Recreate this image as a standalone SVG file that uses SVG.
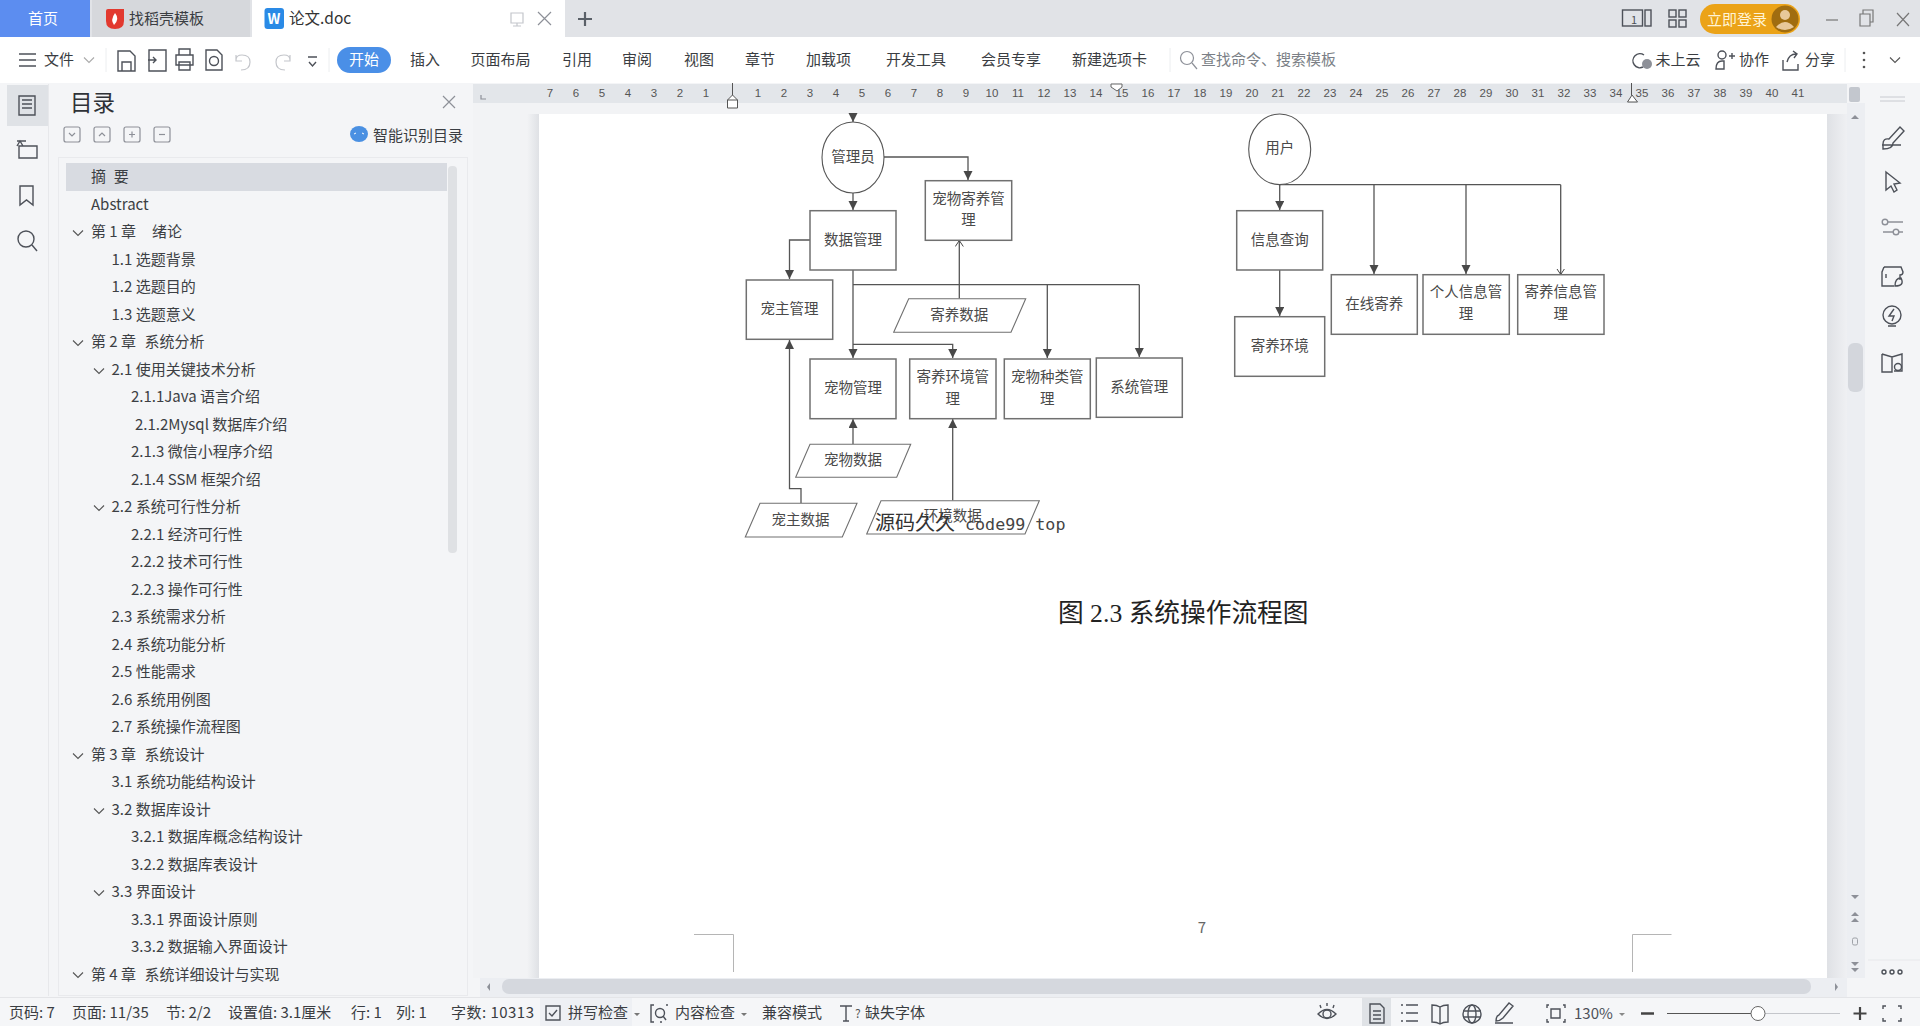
<svg xmlns="http://www.w3.org/2000/svg" width="1920" height="1026" viewBox="0 0 1920 1026">
<style>
text{font-family:"Noto Sans CJK SC","Noto Sans",sans-serif;}
.ui{font-size:15px;fill:#3a3d42}
.toc{font-size:15px;fill:#3c3f44;white-space:pre}
.rl{font-size:11.5px;fill:#555;text-anchor:middle;font-family:"Liberation Sans","Noto Sans CJK SC",sans-serif}
.st{font-size:15px;fill:#3a3d42}
.ic{fill:none;stroke:#4d5159;stroke-width:1.4}
.icl{fill:none;stroke:#8d9098;stroke-width:1.2}
.box{fill:#fff;stroke:#707070;stroke-width:1.5}
.el{fill:#fff;stroke:#555;stroke-width:1.1}
.lb{font-size:14.5px;fill:#4a4a4a;text-anchor:middle}
.cn{fill:none;stroke:#555;stroke-width:1.3}
.ar{marker-end:url(#a)}
.ao{marker-end:url(#o)}
</style>
<defs>
<marker id="a" markerUnits="userSpaceOnUse" markerWidth="10" markerHeight="10" refX="9" refY="4.5" orient="auto"><path d="M0 0L9 4.5L0 9z" fill="#484848"/></marker>
<marker id="o" markerUnits="userSpaceOnUse" markerWidth="8" markerHeight="10" refX="6" refY="4" orient="auto"><path d="M0 0L6 4L0 8" fill="none" stroke="#444" stroke-width="1"/></marker>
<path id="ch" d="M-5 -2.5L0 2.5L5 -2.5" fill="none" stroke="#555" stroke-width="1.1"/>
<linearGradient id="sh" x1="0" x2="1" y1="0" y2="0"><stop offset="0" stop-color="#f2f3f5"/><stop offset="1" stop-color="#dfe1e5"/></linearGradient>
<linearGradient id="sh2" x1="0" x2="1" y1="0" y2="0"><stop offset="0" stop-color="#dfe1e5"/><stop offset="1" stop-color="#eff0f3"/></linearGradient>
</defs>

<rect width="1920" height="1026" fill="#f4f5f7"/>
<!-- document area -->
<rect x="473" y="103" width="1374" height="875" fill="#f2f3f5"/>
<rect x="527" y="114" width="12" height="864" fill="url(#sh)"/>
<rect x="1827" y="114" width="20" height="864" fill="url(#sh2)"/>
<rect x="539" y="114" width="1288" height="864" fill="#fff"/>

<!-- tab bar -->
<rect width="1920" height="37" fill="#e1e3e7"/>
<rect width="90" height="37" fill="#5c8df0"/>
<rect x="92" width="158" height="37" fill="#d6d8dc"/>
<rect x="252" width="313" height="37" fill="#fff"/>
<text x="28" y="24" font-size="15" fill="#fff">首页</text>
<path d="M106 11Q106 9 108 9H124V21Q124 29 115 29Q106 29 106 21z" fill="#e2392f"/>
<path d="M115 13Q120 19 114 25Q110 20 115 13z" fill="#fff"/>
<text x="129" y="24" class="ui" fill="#555">找稻壳模板</text>
<rect x="264.500" y="8" width="19.500" height="21" rx="3" fill="#2a8ae6"/>
<text x="274" y="24" font-size="14" font-weight="700" fill="#fff" text-anchor="middle">W</text>
<text x="289" y="24" font-size="15.500" fill="#333">论文.doc</text>
<path d="M511 13h12v10h-12zM517 23v3M513 26h8" class="icl" style="stroke:#c4c6cb"/>
<path d="M538 12l13 13M551 12l-13 13" class="icl"/>
<path d="M585 12v14M578 19h14" stroke="#5a6068" stroke-width="2.2" fill="none"/>
<g class="ic">
<rect x="1622.500" y="10" width="20" height="16"/><rect x="1645" y="10" width="6" height="16"/>
<rect x="1669" y="10" width="7" height="7"/><rect x="1679" y="10" width="7" height="7"/><rect x="1669" y="20" width="7" height="7"/><rect x="1679" y="20" width="7" height="7"/>
</g>
<text x="1634" y="24" font-size="11" fill="#4d5159" text-anchor="middle" font-family="Liberation Sans">1</text>
<rect x="1700" y="4" width="100" height="30" rx="15" fill="#eba318"/>
<text x="1707" y="25" font-size="15" fill="#fff4d6">立即登录</text>
<circle cx="1785" cy="19" r="13.500" fill="#a06d10"/><circle cx="1785" cy="15" r="5" fill="#e8c89a"/><path d="M1776 27Q1785 17 1794 27Q1785 33 1776 27z" fill="#e8c89a"/>
<path d="M1826 20h12" stroke="#777" stroke-width="1.200"/>
<path d="M1860 14h10v12h-10zM1863 14v-4h10v12h-3" fill="none" stroke="#777" stroke-width="1.200"/>
<path d="M1897 13l12 13M1909 13l-12 13" fill="none" stroke="#777" stroke-width="1.200"/>

<!-- toolbar -->
<rect y="37" width="1920" height="46" fill="#fff"/>
<path d="M19 54h17M19 60h17M19 66h17" class="ic"/>
<text x="44" y="65" class="ui">文件</text>
<use href="#ch" x="89" y="60" opacity=".5"/>
<path d="M106 48v24M329 48v24M1170 48v24M1845 48v24" stroke="#eceef0"/>
<g class="ic">
<path d="M118 51h12l5 5v15h-17zM122 71v-9h9v9"/>
<path d="M149 50h17v21h-17zM148 60h8M153 57l3 3l-3 3"/>
<path d="M176 55h17v10h-17zM179 55v-6h11v6M179 62h11v8h-11z"/>
<path d="M206 50h11l5 5v15h-16z"/><circle cx="214" cy="61" r="4.500"/>
</g>
<path d="M236 60q0-5 6-5q8 0 8 7q0 8-9 8M236 55v6h6" class="icl" style="stroke:#c4c6cb"/>
<path d="M290 60q0-5-6-5q-8 0-8 7q0 8 9 8M290 55v6h-6" class="icl" style="stroke:#c4c6cb"/>
<path d="M308 57h9M309 62l3.500 4l3.500-4" class="ic"/>
<rect x="337" y="47" width="54" height="26" rx="13" fill="#4a8fe7"/>
<text x="349" y="65" class="ui" style="fill:#fff">开始</text>
<g class="ui">
<text x="410" y="65">插入</text><text x="470.500" y="65">页面布局</text><text x="562" y="65">引用</text><text x="622" y="65">审阅</text><text x="684" y="65">视图</text><text x="745" y="65">章节</text><text x="806" y="65">加载项</text><text x="886" y="65">开发工具</text><text x="981" y="65">会员专享</text><text x="1072" y="65">新建选项卡</text>
</g>
<circle cx="1187" cy="58" r="6.500" class="icl"/><path d="M1192 63l5 6" class="icl"/>
<text x="1201" y="65" class="ui" style="fill:#7b7f86">查找命令、搜索模板</text>
<path d="M1644 55a7 7 0 1 0 -1 12" class="ic"/><circle cx="1647" cy="64" r="5" fill="#8d9098"/>
<text x="1655.500" y="65" class="ui">未上云</text>
<circle cx="1722" cy="55" r="4" class="ic"/><path d="M1716 69q0-8 6-8h2v8zM1729 56h6M1732 53v6" class="ic"/>
<text x="1739" y="65" class="ui">协作</text>
<path d="M1783 60v10h15v-6M1787 62q2-8 9-8M1793 51l4 3l-3 4" class="ic"/>
<text x="1805" y="65" class="ui">分享</text>
<circle cx="1864" cy="53" r="1.300" fill="#555"/><circle cx="1864" cy="60" r="1.300" fill="#555"/><circle cx="1864" cy="67" r="1.300" fill="#555"/>
<use href="#ch" x="1895" y="60"/>

<!-- ruler -->
<rect x="473" y="84" width="1374" height="19" fill="#e3e6ea"/>
<path d="M481 95v4h5" class="icl"/>
<g>
<text class="rl" x="550" y="97">7</text><text class="rl" x="576" y="97">6</text><text class="rl" x="602" y="97">5</text><text class="rl" x="628" y="97">4</text><text class="rl" x="654" y="97">3</text><text class="rl" x="680" y="97">2</text><text class="rl" x="706" y="97">1</text>
<text class="rl" x="758" y="97">1</text><text class="rl" x="784" y="97">2</text><text class="rl" x="810" y="97">3</text><text class="rl" x="836" y="97">4</text><text class="rl" x="862" y="97">5</text><text class="rl" x="888" y="97">6</text><text class="rl" x="914" y="97">7</text><text class="rl" x="940" y="97">8</text><text class="rl" x="966" y="97">9</text><text class="rl" x="992" y="97">10</text><text class="rl" x="1018" y="97">11</text><text class="rl" x="1044" y="97">12</text><text class="rl" x="1070" y="97">13</text><text class="rl" x="1096" y="97">14</text><text class="rl" x="1122" y="97">15</text><text class="rl" x="1148" y="97">16</text><text class="rl" x="1174" y="97">17</text><text class="rl" x="1200" y="97">18</text><text class="rl" x="1226" y="97">19</text><text class="rl" x="1252" y="97">20</text><text class="rl" x="1278" y="97">21</text><text class="rl" x="1304" y="97">22</text><text class="rl" x="1330" y="97">23</text><text class="rl" x="1356" y="97">24</text><text class="rl" x="1382" y="97">25</text><text class="rl" x="1408" y="97">26</text><text class="rl" x="1434" y="97">27</text><text class="rl" x="1460" y="97">28</text><text class="rl" x="1486" y="97">29</text><text class="rl" x="1512" y="97">30</text><text class="rl" x="1538" y="97">31</text><text class="rl" x="1564" y="97">32</text><text class="rl" x="1590" y="97">33</text><text class="rl" x="1616" y="97">34</text><text class="rl" x="1642" y="97">35</text><text class="rl" x="1668" y="97">36</text><text class="rl" x="1694" y="97">37</text><text class="rl" x="1720" y="97">38</text><text class="rl" x="1746" y="97">39</text><text class="rl" x="1772" y="97">40</text><text class="rl" x="1798" y="97">41</text>
</g>
<path d="M732.500 83v12" stroke="#555" fill="none"/>
<path d="M727.500 100l5-5l5 5v8h-10zM727.500 100h10" fill="#fff" stroke="#555"/>
<path d="M1111 84h11v3l-5 4l-6-4z" fill="#fff" stroke="#666"/>
<path d="M1631.500 83v12" stroke="#555" fill="none"/>
<path d="M1627.500 102l4.500-7l5.500 7z" fill="#fff" stroke="#555"/>
<rect x="1849" y="87" width="11" height="15" rx="2" fill="#c3c7ce"/>

<!-- left rail -->
<rect x="48" y="84" width="1" height="912" fill="#e7e8eb"/>
<rect x="7" y="85" width="41" height="41" fill="#dfe2e6"/>
<g class="ic">
<path d="M19 96h16v19h-16zM22 100h10M22 104h10M22 108h10"/>
<path d="M17 141h9M37 146H19v12h18zM17 146l3-5l3 5"/>
<path d="M20 186h13v19l-6.500-5l-6.500 5z"/>
<circle cx="26" cy="239" r="8"/><path d="M32 245l5 6"/>
</g>
<!-- panel header -->
<text x="70" y="111" font-size="22.500" fill="#2f3237">目录</text>
<path d="M443 96l12 12M455 96l-12 12" class="icl"/>
<g class="icl">
<rect x="64" y="127" width="16" height="15" rx="2"/><path d="M69 133l3 3l3-3"/>
<rect x="94" y="127" width="16" height="15" rx="2"/><path d="M99 136l3-3l3 3"/>
<rect x="124" y="127" width="16" height="15" rx="2"/><path d="M129 134.500h6M132 131.500v6"/>
<rect x="154" y="127" width="16" height="15" rx="2"/><path d="M159 134.500h6"/>
</g>
<ellipse cx="359" cy="134" rx="9" ry="8" fill="#4a90e2"/><path d="M354 134l2-1M362 133l2 1" stroke="#fff" fill="none"/>
<text x="373" y="141" class="ui">智能识别目录</text>
<rect x="58.500" y="157.500" width="409" height="838" fill="none" stroke="#e9eaed"/>
<rect x="66" y="163" width="381" height="28" fill="#d8dbe1"/>
<rect x="448" y="166" width="9" height="387" rx="4" fill="#dfe1e4"/>
<!-- toc -->
<g class="toc">
<text x="91" y="182">摘 <tspan x="113.700">要</tspan></text>
<text x="91" y="210">Abstract</text>
<text x="91" y="237">第 1 章 <tspan x="152">绪论</tspan></text>
<text x="111.500" y="265">1.1 选题背景</text>
<text x="111.500" y="292">1.2 选题目的</text>
<text x="111.500" y="320">1.3 选题意义</text>
<text x="91" y="347">第 2 章 <tspan x="144.500">系统分析</tspan></text>
<text x="111.500" y="375">2.1 使用关键技术分析</text>
<text x="131" y="402">2.1.1Java 语言介绍</text>
<text x="135" y="430">2.1.2Mysql 数据库介绍</text>
<text x="131" y="457">2.1.3 微信小程序介绍</text>
<text x="131" y="485">2.1.4 SSM 框架介绍</text>
<text x="111.500" y="512">2.2 系统可行性分析</text>
<text x="131" y="540">2.2.1 经济可行性</text>
<text x="131" y="567">2.2.2 技术可行性</text>
<text x="131" y="595">2.2.3 操作可行性</text>
<text x="111.500" y="622">2.3 系统需求分析</text>
<text x="111.500" y="650">2.4 系统功能分析</text>
<text x="111.500" y="677">2.5 性能需求</text>
<text x="111.500" y="705">2.6 系统用例图</text>
<text x="111.500" y="732">2.7 系统操作流程图</text>
<text x="91" y="760">第 3 章 <tspan x="144.500">系统设计</tspan></text>
<text x="111.500" y="787">3.1 系统功能结构设计</text>
<text x="111.500" y="815">3.2 数据库设计</text>
<text x="131" y="842">3.2.1 数据库概念结构设计</text>
<text x="131" y="870">3.2.2 数据库表设计</text>
<text x="111.500" y="897">3.3 界面设计</text>
<text x="131" y="925">3.3.1 界面设计原则</text>
<text x="131" y="952">3.3.2 数据输入界面设计</text>
<text x="91" y="980">第 4 章 <tspan x="144.500">系统详细设计与实现</tspan></text>
</g>
<use href="#ch" x="78" y="233"/><use href="#ch" x="78" y="343"/><use href="#ch" x="99" y="371"/><use href="#ch" x="99" y="508"/><use href="#ch" x="78" y="756"/><use href="#ch" x="99" y="811"/><use href="#ch" x="99" y="893"/><use href="#ch" x="78" y="975"/>

<!-- connectors -->
<g id="connectors">
<path class="cn ar" d="M853 114V122"/>
<path class="cn ar" d="M853 193V210"/>
<path class="cn ar" d="M884 157H968V180"/>
<path class="cn ar" d="M810 240H789.500V279"/>
<path class="cn ar" d="M853 270V358"/>
<path class="cn" d="M853 284.700H1139.300"/>
<path class="cn ar" d="M1047.300 284.700V358"/>
<path class="cn ar" d="M1139.300 284.700V357"/>
<path class="cn ar" d="M853 344.300H952.700V358"/>
<path class="cn ao" d="M959.300 298.500V240.500"/>
<path class="cn ar" d="M853 444V419"/>
<path class="cn ar" d="M952.700 500.500V419"/>
<path class="cn ar" d="M801 503V488.700H789.500V340"/>
<path class="cn ar" d="M1279.700 185V210"/>
<path class="cn" d="M1279.700 184.700H1560.700"/>
<path class="cn ar" d="M1374 184.700V274"/>
<path class="cn ar" d="M1466 184.700V274"/>
<path class="cn ao" d="M1560.700 184.700V274.500"/>
<path class="cn ar" d="M1279.700 270V316"/>
</g>

<!-- nodes -->
<g id="n-admin"><ellipse class="el" cx="853" cy="157.500" rx="31" ry="35.500"/><text class="lb" x="853" y="162">管理员</text></g>
<g id="n-boarding"><rect class="box" x="925.300" y="180.700" width="86.400" height="59.600"/><text class="lb" x="968.500" y="204">宠物寄养管</text><text class="lb" x="968.500" y="225">理</text></g>
<g id="n-data"><rect class="box" x="810" y="210.700" width="86" height="59.300"/><text class="lb" x="853" y="245">数据管理</text></g>
<g id="n-owner"><rect class="box" x="746.300" y="280" width="86.400" height="59.300"/><text class="lb" x="789.500" y="314">宠主管理</text></g>
<g id="n-boarddata"><path class="box" style="stroke-width:1.1" d="M908.700 298.700H1025.700L1011 332.300H893.700z"/><text class="lb" x="959.300" y="320">寄养数据</text></g>
<g id="n-pet"><rect class="box" x="810" y="359" width="86" height="59.700"/><text class="lb" x="853" y="393">宠物管理</text></g>
<g id="n-env"><rect class="box" x="909.700" y="359" width="86.300" height="59.700"/><text class="lb" x="952.700" y="381.500">寄养环境管</text><text class="lb" x="952.700" y="403.500">理</text></g>
<g id="n-kind"><rect class="box" x="1004.300" y="359" width="86" height="59.700"/><text class="lb" x="1047.300" y="381.500">宠物种类管</text><text class="lb" x="1047.300" y="403.500">理</text></g>
<g id="n-sys"><rect class="box" x="1096.300" y="358" width="86" height="59.300"/><text class="lb" x="1139.300" y="392">系统管理</text></g>
<g id="n-petdata"><path class="box" style="stroke-width:1.1" d="M810 444.300H910.700L896.700 477.300H795.700z"/><text class="lb" x="853" y="465">宠物数据</text></g>
<g id="n-ownerdata"><path class="box" style="stroke-width:1.1" d="M760 503.300H857L842.300 537H745.300z"/><text class="lb" x="800.500" y="525">宠主数据</text></g>
<g id="n-envdata"><path class="box" style="stroke-width:1.1" d="M881 500.700H1039.300L1025 534H866.700z"/><text class="lb" x="952.700" y="521">环境数据</text></g>
<g id="n-user"><ellipse class="el" cx="1279.700" cy="149.300" rx="31" ry="35.300"/><text class="lb" x="1279.700" y="153">用户</text></g>
<g id="n-query"><rect class="box" x="1236.700" y="210.700" width="86" height="59.300"/><text class="lb" x="1279.700" y="245">信息查询</text></g>
<g id="n-envu"><rect class="box" x="1234.700" y="316.700" width="90" height="59.600"/><text class="lb" x="1279.700" y="351">寄养环境</text></g>
<g id="n-online"><rect class="box" x="1331.300" y="274.700" width="86" height="59.600"/><text class="lb" x="1374.300" y="309">在线寄养</text></g>
<g id="n-personal"><rect class="box" x="1423" y="274.700" width="86.300" height="59.600"/><text class="lb" x="1466" y="297">个人信息管</text><text class="lb" x="1466" y="319">理</text></g>
<g id="n-info"><rect class="box" x="1517.700" y="274.700" width="86.300" height="59.600"/><text class="lb" x="1560.700" y="297">寄养信息管</text><text class="lb" x="1560.700" y="319">理</text></g>

<!-- watermark, caption, page number -->
<text x="875" y="530" font-size="20" fill="#333">源码久久<tspan x="965" font-family="'DejaVu Sans Mono',monospace" font-size="16.700" fill="#444">code99 top</tspan></text>
<text x="1058" y="622" font-size="25.700" fill="#222"><tspan font-family="Noto Sans CJK SC">图</tspan><tspan font-family="Liberation Serif"> 2.3 </tspan>系统操作流程图</text>
<text x="1202" y="933" font-size="15" fill="#666" font-family="Liberation Serif" text-anchor="middle">7</text>
<path d="M694 934.500H733.500V972M1671.500 934.500H1632.500V972" fill="none" stroke="#b5b5b5"/>

<!-- vertical scrollbar -->
<rect x="1847" y="103" width="18" height="875" fill="#eceef2"/>
<rect x="1848" y="343" width="15" height="49" rx="6" fill="#d3d6dc"/>
<path d="M1851 119l4-4l4 4zM1851 895l4 4l4-4zM1851 916l4-4l4 4zM1851 922l4-4l4 4zM1851 962l4 4l4-4zM1851 968l4 4l4-4z" fill="#8d9098"/>
<rect x="1852.500" y="938" width="5" height="7" rx="1.500" fill="none" stroke="#a0a3a9"/>
<!-- right rail -->
<path d="M1880 97h25M1880 101h25" stroke="#c8cad0" fill="none"/>
<g class="ic">
<path d="M1883 144q0-6 6-5l11-12l4 4l-11 12q0 6-10 6zM1882 145h19"/>
<path d="M1886 172l14 11l-6 1l3 6l-3 2l-3-6l-5 4z"/>
<circle cx="1885" cy="222" r="2.800" style="stroke:#8d9098"/><circle cx="1896" cy="232" r="2.800" style="stroke:#8d9098"/><path d="M1899 232h4M1883 232h10M1888 222h15" style="stroke:#8d9098"/>
<path d="M1884 267h17l2 5q0 3-3 3v5M1884 267l-2 5v14h12M1886 278v-4"/><path d="M1895 286q0-8 6-8q4 8-6 8z"/>
<circle cx="1892" cy="315" r="9"/><path d="M1894 309l-5 7h5l-2 5M1888 326h8"/>
<path d="M1882 354l10 3l10-3v17l-8 0M1882 354v18l10 0v-15"/><circle cx="1898" cy="367" r="3.500"/>
</g>
<path d="M1868 960h52" stroke="#e7e8eb"/>
<circle cx="1884" cy="972" r="2" class="ic"/><circle cx="1892" cy="972" r="2" class="ic"/><circle cx="1900" cy="972" r="2" class="ic"/>

<!-- horizontal scrollbar -->
<rect x="480" y="978" width="1367" height="20" fill="#eceef2"/>
<rect x="502" y="979" width="1309" height="15" rx="7" fill="#d5d8de"/>
<path d="M490 983v8l-3-4zM1835 983v8l3-4z" fill="#8d9098"/>

<!-- status bar -->
<rect y="998" width="1920" height="28" fill="#f5f6f8"/>
<path d="M0 997.500H1920" stroke="#e4e5e8"/>
<rect x="540" y="998" width="92" height="28" fill="#e9ecf1" opacity=".6"/>
<g class="st">
<text x="9" y="1018">页码: 7</text><text x="72" y="1018">页面: 11/35</text><text x="166" y="1018">节: 2/2</text><text x="228" y="1018">设置值: 3.1厘米</text><text x="351" y="1018">行: 1</text><text x="396" y="1018">列: 1</text><text x="451" y="1018" textLength="83">字数: 10313</text><text x="568" y="1018">拼写检查</text><text x="675" y="1018">内容检查</text><text x="762" y="1018">兼容模式</text><text x="865" y="1018">缺失字体</text>
</g>
<g class="ic">
<path d="M546 1006h14v14h-14zM549 1013l3 3l5-6"/>
<path d="M654 1005h-3v17h3M668 1005h-2M662 1022h-2"/><circle cx="660" cy="1013" r="4.500"/><path d="M663 1016l3 4"/>
<path d="M840 1006h12M846 1006v15M843 1021h6"/>
</g>
<path d="M634 1013l3 3l3-3zM741 1013l3 3l3-3z" fill="#777"/>
<text x="855" y="1018" font-size="12" fill="#555" font-family="Liberation Sans">?</text>
<!-- status right -->
<g class="ic">
<circle cx="1327" cy="1014" r="4"/><path d="M1318 1014q9-9 18 0q-9 9-18 0zM1327 1003v3M1320 1005l1 3M1334 1005l-1 3"/>
</g>
<rect x="1362" y="998" width="29" height="28" fill="#dfe2e6"/>
<g class="ic">
<path d="M1370 1004h10l4 4v15h-14zM1373 1011h8M1373 1015h8M1373 1019h8"/>
<path d="M1401 1005h2M1406 1005h12M1401 1013h2M1406 1013h12M1401 1021h2M1406 1021h12"/>
<path d="M1432 1005q5 0 8 2q3-2 8-2v17q-5 0-8 2q-3-2-8-2zM1440 1007v17"/>
<circle cx="1472" cy="1014" r="9"/><ellipse cx="1472" cy="1014" rx="4" ry="9"/><path d="M1463 1011h18M1463 1017h18"/>
<path d="M1496 1021q0-5 3-6l10-12l4 3l-10 12q-3 3-7 3zM1495 1023h18"/>
<path d="M1549 1005h-2v3M1563 1005h2v3M1549 1022h-2v-3M1563 1022h2v-3M1551 1009h9v9h-9z"/>
</g>
<text x="1574" y="1019" font-size="15" fill="#4d5159">130%</text>
<path d="M1619 1013l3 3l3-3z" fill="#888"/>
<path d="M1641 1013.500h13" stroke="#444" stroke-width="2.500"/>
<path d="M1667 1013.500H1751" stroke="#555"/><path d="M1765 1013.500H1840" stroke="#c4c6cb"/>
<circle cx="1758" cy="1013.500" r="7" fill="#fff" stroke="#666"/>
<path d="M1860 1007v13M1853.500 1013.500h13" stroke="#444" stroke-width="2.200"/>
<path d="M1883 1009v-3h3M1901 1009v-3h-3M1883 1018v3h3M1901 1018v3h-3" class="ic"/>
</svg>
